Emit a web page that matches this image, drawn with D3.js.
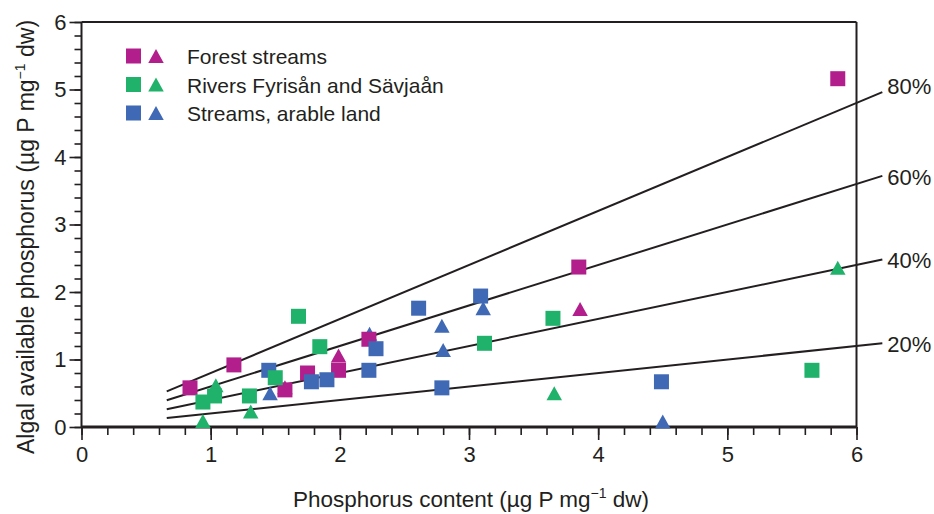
<!DOCTYPE html>
<html>
<head>
<meta charset="utf-8">
<script src="https://cdn.jsdelivr.net/npm/d3@7"></script>
<style>
  html, body { margin: 0; padding: 0; background: #fff; }
  svg { display: block; font-family: "Liberation Sans", Arial, Helvetica, sans-serif; }
</style>
</head>
<body>
<svg id="chart" width="934" height="514"></svg>
<script>
// Phosphorus content vs algal available phosphorus, three stream types
const forestSquareX = [0.84, 1.18, 1.575, 1.75, 1.99, 2.225, 3.85, 5.855];
const forestSquareY = [0.58, 0.92, 0.55, 0.80, 0.84, 1.30, 2.37, 5.16];
const forestTriX = [1.575, 1.99, 3.86];
const forestTriY = [0.59, 1.06, 1.75];

const riverSquareX = [0.94, 1.03, 1.30, 1.50, 1.68, 1.845, 3.12, 3.65, 5.655];
const riverSquareY = [0.37, 0.46, 0.46, 0.73, 1.64, 1.19, 1.24, 1.61, 0.84];
const riverTriX = [0.94, 1.04, 1.31, 3.66, 5.855];
const riverTriY = [0.09, 0.62, 0.23, 0.50, 2.36];

const arableSquareX = [1.45, 1.78, 1.90, 2.225, 2.28, 2.61, 2.79, 3.09, 4.49];
const arableSquareY = [0.84, 0.67, 0.70, 0.84, 1.16, 1.76, 0.58, 1.94, 0.67];
const arableTriX = [1.46, 2.23, 2.79, 2.80, 3.11, 4.50];
const arableTriY = [0.50, 1.38, 1.50, 1.14, 1.76, 0.08];

// reference lines: available P as a share of total P
const shares = [0.8, 0.6, 0.4, 0.2];
const shareLabels = ["80%", "60%", "40%", "20%"];
const lineFrom = 0.66, lineTo = 6.2;

const seriesNames = ["Forest streams", "Rivers Fyrisån and Sävjaån", "Streams, arable land"];
const colors = ["#b31e8d", "#20b26b", "#3f69b4"];

const xTicks = [0, 1, 2, 3, 4, 5, 6];
const yTicks = [0, 1, 2, 3, 4, 5, 6];
const xTitle = "Phosphorus content (µg P mg";
const yTitle = "Algal available phosphorus (µg P mg";

const svg = d3.select("#chart");
const ink = "#231f20";

const x = d3.scaleLinear().domain([0, 6]).range([81.5, 856.5]);
const y = d3.scaleLinear().domain([0, 6]).range([427, 22]);

const zip = (xs, ys) => xs.map((v, i) => [v, ys[i]]);
const squares = [zip(forestSquareX, forestSquareY), zip(riverSquareX, riverSquareY), zip(arableSquareX, arableSquareY)];
const triangles = [zip(forestTriX, forestTriY), zip(riverTriX, riverTriY), zip(arableTriX, arableTriY)];

// frame
svg.append("line").attr("x1", x(0)).attr("x2", x(6)).attr("y1", y(6)).attr("y2", y(6))
  .attr("stroke", ink).attr("stroke-width", 2);
svg.append("line").attr("x1", x(6)).attr("x2", x(6)).attr("y1", y(6)).attr("y2", y(0))
  .attr("stroke", ink).attr("stroke-width", 2);

// axes with minor ticks
const minor = d3.range(0, 6.001, 0.2).map(v => +v.toFixed(1));

const xAxisG = svg.append("g").attr("transform", `translate(0,${y(0)})`);
xAxisG.call(d3.axisBottom(x).tickValues(minor).tickSize(8).tickFormat(""));
xAxisG.append("g").call(d3.axisBottom(x).tickValues(xTicks).tickSize(13).tickPadding(6).tickFormat(d3.format("d")));
xAxisG.selectAll(".domain").remove();
xAxisG.selectAll("line").attr("stroke", ink).attr("stroke-width", 1.6);
xAxisG.selectAll("text").attr("fill", ink).attr("font-size", 22).attr("font-family", "Liberation Sans, Arial, sans-serif");

const yAxisG = svg.append("g").attr("transform", `translate(${x(0)},0)`);
yAxisG.call(d3.axisLeft(y).tickValues(minor).tickSize(7).tickFormat(""));
yAxisG.append("g").call(d3.axisLeft(y).tickValues(yTicks).tickSize(12).tickPadding(3).tickFormat(d3.format("d")));
yAxisG.selectAll(".domain").remove();
yAxisG.selectAll("line").attr("stroke", ink).attr("stroke-width", 1.6);
yAxisG.selectAll("text").attr("fill", ink).attr("font-size", 22).attr("font-family", "Liberation Sans, Arial, sans-serif");

// axis lines
svg.append("line").attr("x1", x(0)).attr("x2", x(0)).attr("y1", y(6)).attr("y2", y(0))
  .attr("stroke", ink).attr("stroke-width", 2);
svg.append("line").attr("x1", x(0)).attr("x2", x(6)).attr("y1", y(0)).attr("y2", y(0))
  .attr("stroke", ink).attr("stroke-width", 3.2);

// reference lines and labels
shares.forEach((p, i) => {
  svg.append("line")
    .attr("x1", x(lineFrom)).attr("y1", y(p * lineFrom))
    .attr("x2", x(lineTo)).attr("y2", y(p * lineTo))
    .attr("stroke", ink).attr("stroke-width", 2);
  svg.append("text")
    .attr("x", x(lineTo) + 5).attr("y", y(p * lineTo) + (i === 0 ? -6 : 1))
    .attr("dy", "0.35em")
    .attr("font-size", 22).attr("fill", ink)
    .text(shareLabels[i]);
});

// markers
const sq = 15, tw = 15.5, th = 14;
const triPath = `M0,${-th / 2}L${tw / 2},${th / 2}L${-tw / 2},${th / 2}Z`;

triangles.forEach((pts, s) => {
  svg.append("g").selectAll("path").data(pts).join("path")
    .attr("d", triPath)
    .attr("transform", d => `translate(${x(d[0])},${y(d[1])})`)
    .attr("fill", colors[s]);
});
[0, 2, 1].forEach(s => {
  svg.append("g").selectAll("rect").data(squares[s]).join("rect")
    .attr("x", d => x(d[0]) - sq / 2).attr("y", d => y(d[1]) - sq / 2)
    .attr("width", sq).attr("height", sq)
    .attr("fill", colors[s]);
});

// legend
const legend = svg.append("g");
seriesNames.forEach((name, i) => {
  const cy = 56 + i * 28.5;
  legend.append("rect").attr("x", 126).attr("y", cy - 7.5).attr("width", sq).attr("height", sq).attr("fill", colors[i]);
  legend.append("path").attr("d", triPath).attr("transform", `translate(156,${cy})`).attr("fill", colors[i]);
  legend.append("text").attr("x", 187).attr("y", cy + 1).attr("dy", "0.35em")
    .attr("font-size", 21).attr("fill", ink).text(name);
});

// axis titles with superscript −1
const xt = svg.append("text").attr("x", 471).attr("y", 507).attr("text-anchor", "middle")
  .attr("font-size", 22.5).attr("fill", ink);
xt.append("tspan").text(xTitle);
xt.append("tspan").attr("dy", -9).attr("font-size", 14).text("−1");
xt.append("tspan").attr("dy", 9).text(" dw)");

const yt = svg.append("text").attr("transform", "translate(34,237) rotate(-90)").attr("text-anchor", "middle")
  .attr("font-size", 23).attr("fill", ink);
yt.append("tspan").text(yTitle);
yt.append("tspan").attr("dy", -9).attr("font-size", 14).text("−1");
yt.append("tspan").attr("dy", 9).text(" dw)");
</script>
</body>
</html>
